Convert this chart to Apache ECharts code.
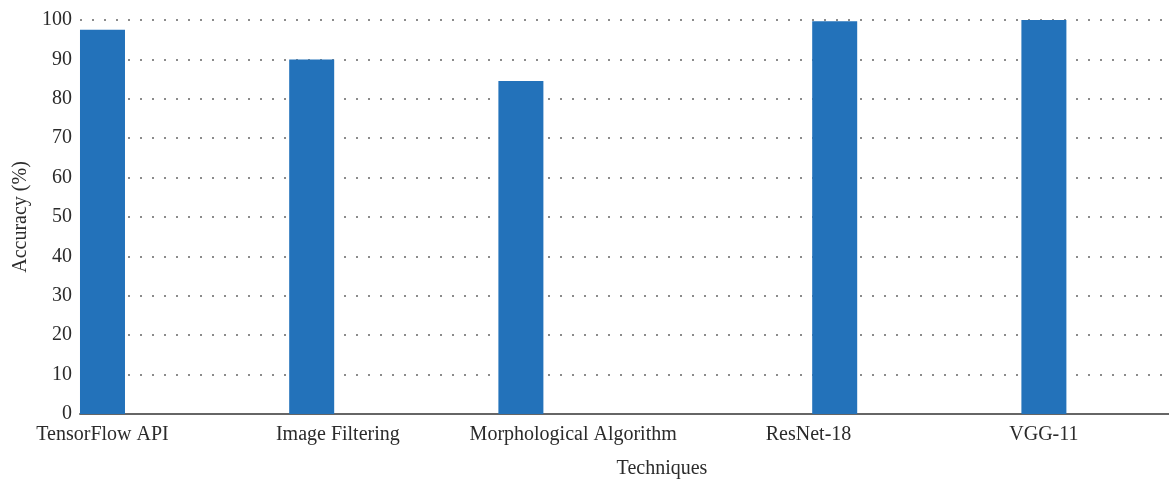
<!DOCTYPE html>
<html>
<head>
<meta charset="utf-8">
<script src="https://cdn.jsdelivr.net/npm/echarts@6/dist/echarts.min.js"></script>
<style>
html,body{margin:0;padding:0;background:#fff;}
#chart{width:1169px;height:479px;}
</style>
</head>
<body>
<div id="chart"></div>
<script>
// Data
const techniques = ['TensorFlow API', 'Image Filtering', 'Morphological Algorithm', 'ResNet-18', 'VGG-11'];
const accuracy = [97.5, 90.0, 84.5, 99.7, 100.0];
// x positions of bars (data units) and of the tick labels, as in the original plot
const barX = [0, 2, 4, 7, 9];
const labelX = [0, 2.25, 4.5, 6.75, 9];
const yTicks = [0, 10, 20, 30, 40, 50, 60, 70, 80, 90, 100];

const font = '"Liberation Serif", "DejaVu Serif", serif';
const textColor = '#2b2b2b';

const chart = echarts.init(document.getElementById('chart'), null, {renderer: 'canvas'});
chart.setOption({
  animation: false,
  backgroundColor: '#ffffff',
  grid: {left: 80, right: 0, top: 20, bottom: 65, containLabel: false, outerBoundsMode: 'none'},
  xAxis: {
    type: 'value',
    min: -0.215,
    max: 10.196,
    name: 'Techniques',
    nameLocation: 'middle',
    nameGap: 45,
    nameTextStyle: {fontFamily: font, fontSize: 20, color: textColor, padding: [0, 0, 0, 75]},
    axisLine: {show: true, lineStyle: {color: '#666666', width: 2}},
    axisTick: {show: false},
    splitLine: {show: false},
    axisLabel: {
      customValues: labelX,
      fontFamily: font, fontSize: 20, color: textColor, margin: 11,
      formatter: function (v) {
        const i = labelX.indexOf(v);
        return i >= 0 ? techniques[i] : '';
      }
    }
  },
  yAxis: {
    type: 'value',
    min: yTicks[0],
    max: yTicks[yTicks.length - 1],
    interval: 10,
    name: 'Accuracy (%)',
    nameLocation: 'middle',
    nameGap: 49,
    nameRotate: 90,
    nameTextStyle: {fontFamily: font, fontSize: 20, color: textColor},
    axisLine: {show: false},
    axisTick: {show: false},
    axisLabel: {fontFamily: font, fontSize: 20, color: textColor, margin: 8},
    splitLine: {show: true, lineStyle: {color: '#666666', width: 1.5, type: [2, 10]}}
  },
  series: [{
    type: 'bar',
    barWidth: 45,
    itemStyle: {color: '#2372ba'},
    data: barX.map((x, i) => [x, accuracy[i]]),
    z: 3
  }]
});
</script>
</body>
</html>
